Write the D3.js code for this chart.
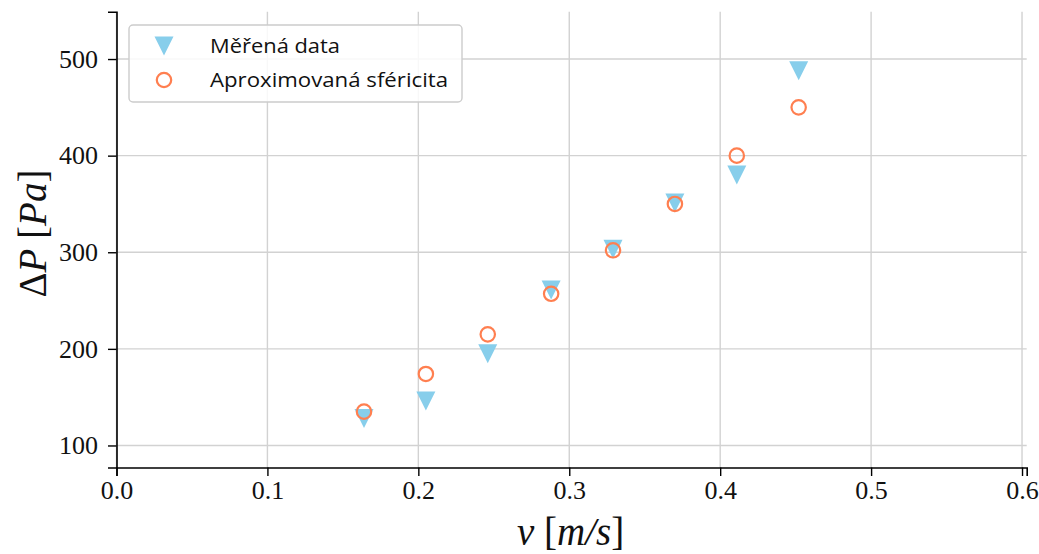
<!DOCTYPE html>
<html>
<head>
<meta charset="utf-8">
<script src="https://cdn.jsdelivr.net/npm/d3@7"></script>
<style>
  body { margin: 0; background: #fff; }
  svg { display: block; }
</style>
</head>
<body>
<svg id="chart" width="1039" height="554"></svg>
<script>
// Flow velocity [m/s]
const velocity = [0.164, 0.205, 0.246, 0.288, 0.329, 0.370, 0.411, 0.452];
// Measured pressure drop [Pa]
const measured = [128, 146, 195, 261, 303, 351, 380, 488];
// Pressure drop from the approximated sphericity [Pa]
const approximated = [135, 174, 215, 257, 302, 350, 400, 450];
const xTicks = [0.0, 0.1, 0.2, 0.3, 0.4, 0.5, 0.6];
const yTicks = [100, 200, 300, 400, 500];
const seriesNames = ["Měřená data", "Aproximovaná sféricita"];

const svg = d3.select("#chart");
const plotLeft = 116.5, plotRight = 1026.7, plotTop = 11.7, plotBottom = 467.5;

const x = d3.scaleLinear().domain([0, 0.6031]).range([plotLeft, plotRight]);
const y = d3.scaleLinear().domain([77.2, 549]).range([plotBottom, plotTop]);

const serif = "'Liberation Serif', 'DejaVu Serif', serif";
const sans = "'Open Sans', Lato, 'DejaVu Sans', sans-serif";

// grid
const grid = svg.append("g").attr("stroke", "#d2d2d2").attr("stroke-width", 1.4);
xTicks.forEach(t => grid.append("line")
  .attr("x1", x(t)).attr("x2", x(t)).attr("y1", plotTop).attr("y2", plotBottom));
yTicks.forEach(t => grid.append("line")
  .attr("x1", plotLeft).attr("x2", plotRight).attr("y1", y(t)).attr("y2", y(t)));

// axes
const xAxis = svg.append("g").attr("transform", `translate(0,${plotBottom})`)
  .call(d3.axisBottom(x).tickValues(xTicks).tickFormat(d3.format(".1f")).tickSizeOuter(0).tickSize(8.5).tickPadding(5));
const yAxis = svg.append("g").attr("transform", `translate(${plotLeft},0)`)
  .call(d3.axisLeft(y).tickValues(yTicks).tickFormat(d3.format("d")).tickSizeOuter(0).tickSize(8.5).tickPadding(10));
[xAxis, yAxis].forEach(a => {
  a.select(".domain").attr("stroke", "#000").attr("stroke-width", 1.6);
  a.selectAll(".tick line").attr("stroke", "#000").attr("stroke-width", 1.4);
  a.selectAll(".tick text").attr("font-family", serif).attr("font-size", 26).attr("fill", "#111");
});

// markers
const triSize = 19;
const triPath = s => `M${-s/2},${-s/2}L${s/2},${-s/2}L0,${s/2}Z`;

svg.append("g").selectAll("path").data(velocity).join("path")
  .attr("d", triPath(triSize))
  .attr("transform", (d, i) => `translate(${x(d)},${y(measured[i])})`)
  .attr("fill", "#87CEEB");

svg.append("g").selectAll("circle").data(velocity).join("circle")
  .attr("cx", d => x(d))
  .attr("cy", (d, i) => y(approximated[i]))
  .attr("r", 7.2)
  .attr("fill", "none")
  .attr("stroke", "#FF7F50")
  .attr("stroke-width", 2.2);

// legend
const lg = svg.append("g");
lg.append("rect").attr("x", 129).attr("y", 25).attr("width", 333).attr("height", 77)
  .attr("rx", 4).attr("fill", "rgba(255,255,255,0.85)").attr("stroke", "#cccccc").attr("stroke-width", 1.4);
lg.append("path").attr("d", triPath(triSize)).attr("transform", "translate(164,46)").attr("fill", "#87CEEB");
lg.append("circle").attr("cx", 164).attr("cy", 80).attr("r", 7.2)
  .attr("fill", "none").attr("stroke", "#FF7F50").attr("stroke-width", 2.2);
lg.append("text").attr("x", 210).attr("y", 53).text(seriesNames[0])
  .attr("font-family", sans).attr("font-size", 20.5).attr("fill", "#111")
  .attr("textLength", 130).attr("lengthAdjust", "spacingAndGlyphs");
lg.append("text").attr("x", 210).attr("y", 87).text(seriesNames[1])
  .attr("font-family", sans).attr("font-size", 20.5).attr("fill", "#111")
  .attr("textLength", 238).attr("lengthAdjust", "spacingAndGlyphs");

// axis labels
const xl = svg.append("text").attr("x", (plotLeft + plotRight) / 2 - 1).attr("y", 545)
  .attr("text-anchor", "middle").attr("font-family", serif).attr("font-size", 39).attr("fill", "#111");
xl.append("tspan").attr("font-style", "italic").text("v");
xl.append("tspan").text(" [");
xl.append("tspan").attr("font-style", "italic").text("m/s");
xl.append("tspan").text("]");

const yl = svg.append("text").attr("transform", `translate(46,${(plotTop + plotBottom) / 2 - 6}) rotate(-90)`)
  .attr("text-anchor", "middle").attr("font-family", serif).attr("font-size", 39).attr("fill", "#111");
yl.append("tspan").text("Δ");
yl.append("tspan").attr("font-style", "italic").text("P");
yl.append("tspan").text(" [");
yl.append("tspan").attr("font-style", "italic").text("Pa");
yl.append("tspan").text("]");
</script>
</body>
</html>
